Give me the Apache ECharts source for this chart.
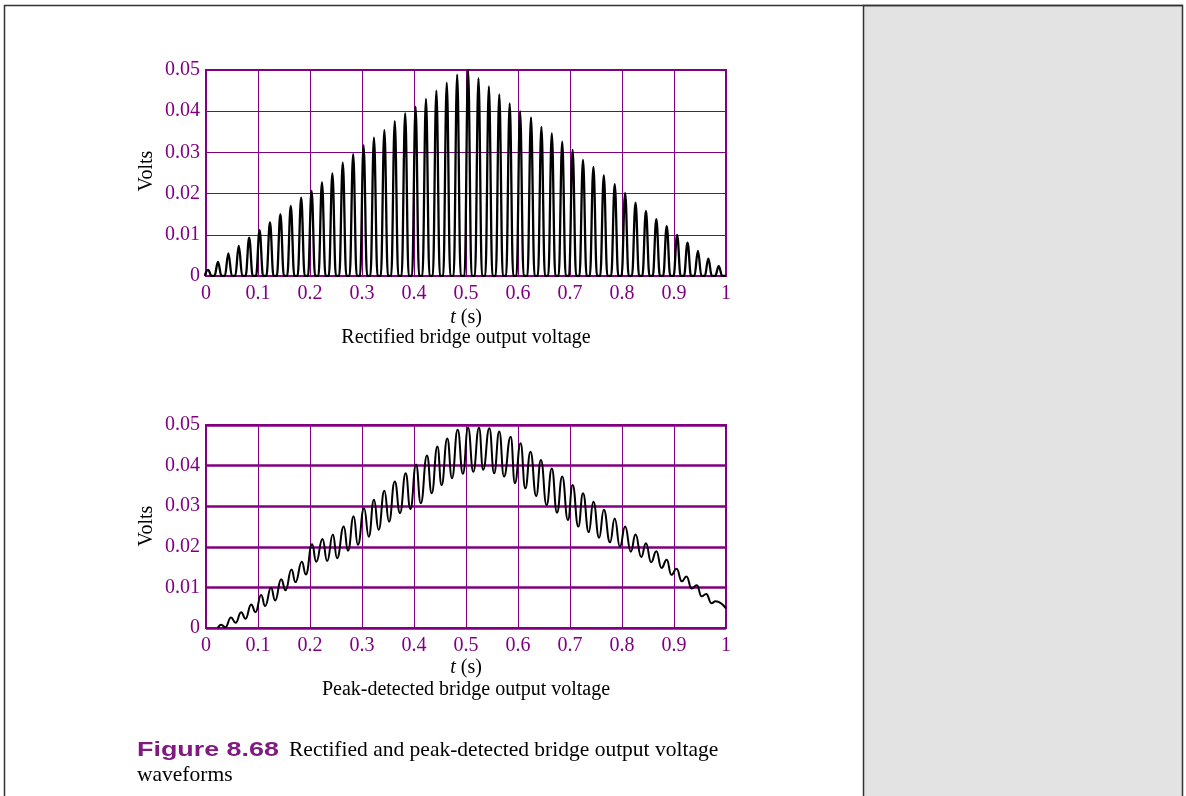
<!DOCTYPE html>
<html>
<head>
<meta charset="utf-8">
<script src="https://cdn.jsdelivr.net/npm/echarts@6/dist/echarts.min.js"></script>
<style>
html,body{margin:0;padding:0;background:#fff;}
#c{width:1186px;height:796px;}
</style>
</head>
<body>
<div id="c"></div>
<script>
// ---- data ----
// Top: rectified bridge output voltage — peak time (s) and peak height (V) of each hump
var rectPeakTimes = [0.004,0.023,0.043,0.063,0.083,0.103,0.123,0.143,0.163,0.183,
  0.203,0.223,0.243,0.263,0.283,0.303,0.323,0.343,0.363,0.383,
  0.403,0.423,0.443,0.463,0.483,0.504,0.524,0.544,0.564,0.584,
  0.604,0.625,0.645,0.665,0.685,0.705,0.725,0.745,0.765,0.786,
  0.806,0.826,0.846,0.866,0.886,0.906,0.926,0.946,0.966,0.986];
var rectPeakVolts = [0.0015,0.0034,0.0055,0.0073,0.0093,0.0111,0.0130,0.0150,0.0170,0.0190,
  0.0207,0.0227,0.0249,0.0275,0.0296,0.0317,0.0336,0.0354,0.0376,0.0395,
  0.0411,0.0430,0.0450,0.0469,0.0489,0.0500,0.0480,0.0460,0.0441,0.0419,
  0.0400,0.0385,0.0362,0.0346,0.0326,0.0306,0.0282,0.0265,0.0244,0.0223,
  0.0202,0.0178,0.0158,0.0138,0.0121,0.0100,0.0081,0.0061,0.0042,0.0024];
var humpHalfWidth = 0.0068; // half base width of each hump (s)

// Bottom: peak-detected output — successive turning points of the ripple
var peakDetTimes = [0.0226,0.0291,0.0374,0.048,0.057,0.0676,0.076,0.0869,0.0952,0.106,
  0.1138,0.125,0.133,0.1446,0.153,0.1644,0.172,0.1843,0.192,0.204,
  0.212,0.224,0.233,0.244,0.252,0.265,0.273,0.284,0.292,0.304,
  0.313,0.323,0.332,0.343,0.352,0.363,0.373,0.384,0.393,0.404,
  0.413,0.425,0.434,0.445,0.453,0.464,0.473,0.484,0.494,0.504,
  0.514,0.525,0.533,0.545,0.554,0.564,0.573,0.586,0.594,0.605,
  0.614,0.624,0.635,0.644,0.655,0.665,0.675,0.685,0.696,0.705,
  0.716,0.725,0.736,0.745,0.756,0.765,0.777,0.786,0.796,0.806,
  0.817,0.826,0.837,0.846,0.856,0.866,0.876,0.886,0.895,0.905,
  0.915,0.924,0.934,0.944,0.953,0.962,0.972,0.980,1.0];
var peakDetVolts = [0,0.0008,0.0002,0.0026,0.0013,0.0039,0.0023,0.0058,0.0039,0.0081,
  0.0054,0.0099,0.0068,0.0120,0.0093,0.0144,0.0113,0.0163,0.0132,0.0206,
  0.0163,0.0219,0.0165,0.0230,0.0172,0.0250,0.0190,0.0275,0.0205,0.0295,
  0.0225,0.0316,0.0242,0.0338,0.0262,0.0361,0.0283,0.0381,0.0293,0.0403,
  0.0307,0.0425,0.0332,0.0447,0.0352,0.0467,0.0369,0.0488,0.0380,0.0493,
  0.0385,0.0493,0.0390,0.0492,0.0381,0.0484,0.0373,0.0471,0.0357,0.0455,
  0.0344,0.0434,0.0325,0.0414,0.0303,0.0393,0.0284,0.0373,0.0266,0.0352,
  0.0250,0.0332,0.0236,0.0311,0.0222,0.0291,0.0211,0.0270,0.0200,0.0250,
  0.0188,0.0230,0.0175,0.0209,0.0162,0.0189,0.0148,0.0168,0.0131,0.0146,
  0.0115,0.0127,0.0097,0.0105,0.0078,0.0084,0.0061,0.0066,0.0048];

var xTicks = {min:0, max:1, interval:0.1};
var yTicks = {min:0, max:0.05, interval:0.01};

// ---- build series data ----
var rectData = [];
for (var i = 0; i < rectPeakTimes.length; i++) {
  rectData.push([rectPeakTimes[i] - humpHalfWidth, 0]);
  rectData.push([rectPeakTimes[i], rectPeakVolts[i]]);
  rectData.push([rectPeakTimes[i] + humpHalfWidth, 0]);
}
rectData.push([1, 0]);
var pdData = peakDetTimes.map(function (t, i) { return [t, peakDetVolts[i]]; });

var PURPLE = '#800080';
var SERIF = '"Liberation Serif","Times New Roman",serif';
var FS = 20;

function xAxis(idx, gridW) {
  return {
    type:'value', gridIndex: idx, min:xTicks.min, max:xTicks.max, interval:xTicks.interval,
    axisLine:{show:false}, axisTick:{show:false},
    axisLabel:{color:PURPLE, fontFamily:SERIF, fontSize:FS, margin:8},
    splitLine:{show:true, lineStyle:{color:PURPLE, width:gridW}}
  };
}
function yAxis(idx, gridW) {
  return {
    type:'value', gridIndex: idx, min:yTicks.min, max:yTicks.max, interval:yTicks.interval,
    axisLine:{show:false}, axisTick:{show:false},
    axisLabel:{color:PURPLE, fontFamily:SERIF, fontSize:FS, margin:6},
    splitLine:{show:true, lineStyle:{color:PURPLE, width:gridW}}
  };
}

var chart = echarts.init(document.getElementById('c'), null, {renderer:'canvas'});
chart.setOption({
  animation:false,
  backgroundColor:'#ffffff',
  grid:[
    {left:206, top:70, width:520, height:206, show:true, borderColor:PURPLE, borderWidth:2, backgroundColor:'transparent'},
    {left:206, top:425, width:520, height:203, show:true, borderColor:PURPLE, borderWidth:2, backgroundColor:'transparent'}
  ],
  xAxis:[xAxis(0, 1), xAxis(1, 1)],
  yAxis:[yAxis(0, 1), yAxis(1, 2.5)],
  series:[
    {type:'line', xAxisIndex:0, yAxisIndex:0, data:rectData, showSymbol:false, smooth:0.4, smoothMonotone:'x',
     lineStyle:{color:'#000', width:2.3}, z:5},
    {type:'line', xAxisIndex:1, yAxisIndex:1, data:pdData, showSymbol:false, smooth:0.5, smoothMonotone:'x',
     lineStyle:{color:'#000', width:2}, z:5}
  ],
  graphic:[
    {type:'rect', shape:{x:863.5, y:5.5, width:319, height:800}, style:{fill:'#e3e3e3', stroke:'#333', lineWidth:1.5}, z:-10},
    {type:'polyline', shape:{points:[[4.5,800],[4.5,5.5],[1183,5.5]]}, style:{stroke:'#333', lineWidth:1.5, fill:null}, z:-9},
    {type:'text', x:147, y:171, rotation:Math.PI/2, style:{text:'Volts', font:FS+'px '+SERIF, fill:'#000', align:'center', verticalAlign:'middle'}},
    {type:'text', x:147, y:526, rotation:Math.PI/2, style:{text:'Volts', font:FS+'px '+SERIF, fill:'#000', align:'center', verticalAlign:'middle'}},
    {type:'text', x:466, y:318, style:{text:'{i|t} (s)', font:FS+'px '+SERIF, fill:'#000', align:'center', verticalAlign:'middle',
      rich:{i:{fontStyle:'italic', fontFamily:SERIF, fontSize:FS, fill:'#000'}}}},
    {type:'text', x:466, y:338, style:{text:'Rectified bridge output voltage', font:FS+'px '+SERIF, fill:'#000', align:'center', verticalAlign:'middle'}},
    {type:'text', x:466, y:668, style:{text:'{i|t} (s)', font:FS+'px '+SERIF, fill:'#000', align:'center', verticalAlign:'middle',
      rich:{i:{fontStyle:'italic', fontFamily:SERIF, fontSize:FS, fill:'#000'}}}},
    {type:'text', x:466, y:690, style:{text:'Peak-detected bridge output voltage', font:FS+'px '+SERIF, fill:'#000', align:'center', verticalAlign:'middle'}},
    {type:'text', x:137, y:750, scaleX:1.28, style:{text:'Figure 8.68', font:'bold 21px "Liberation Sans",Arial,sans-serif', fill:'#801a80', verticalAlign:'middle'}},
    {type:'text', x:289, y:750, style:{text:'Rectified and peak-detected bridge output voltage', font:'21.5px '+SERIF, fill:'#000', verticalAlign:'middle'}},
    {type:'text', x:137, y:775, style:{text:'waveforms', font:'21.5px '+SERIF, fill:'#000', verticalAlign:'middle'}}
  ]
});
</script>
</body>
</html>
